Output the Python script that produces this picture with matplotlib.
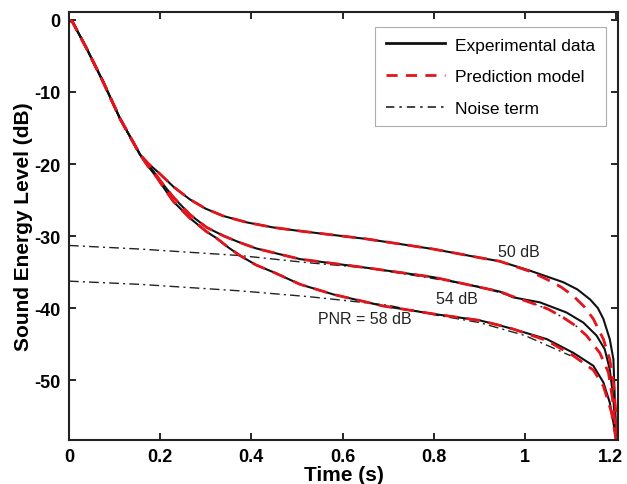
import matplotlib
matplotlib.use("Agg")
import matplotlib.pyplot as plt
from matplotlib.transforms import ScaledTranslation

plt.rcParams["font.family"] = ["Liberation Sans", "DejaVu Sans"]
plt.rcParams["axes.unicode_minus"] = False

# shared early decay (all three curves overlap here)
t_start = [0.0, 0.008, 0.039, 0.075, 0.112, 0.156]
y_start = [0.0, -0.3, -4.0, -8.6, -13.7, -18.7]

# PNR = 50 dB
t_50 = [0.175, 0.195, 0.23, 0.265, 0.30, 0.338, 0.39, 0.448, 0.507, 0.653,
        0.799, 0.901, 0.945, 1.011, 1.084, 1.115, 1.143, 1.160, 1.172,
        1.186, 1.194, 1.197, 1.201]
exp_50 = [-20.0, -21.1, -23.2, -24.9, -26.2, -27.2, -28.1, -28.8, -29.3,
          -30.4, -31.8, -33.0, -33.5, -34.8, -36.4, -37.4, -38.8, -40.0,
          -41.5, -44.3, -47.1, -52.6, -58.3]
t_50m = [0.175, 0.195, 0.23, 0.265, 0.30, 0.338, 0.39, 0.448, 0.507, 0.653,
         0.799, 0.901, 0.945, 1.011, 1.048, 1.080, 1.106, 1.130, 1.150,
         1.172, 1.186, 1.194, 1.201, 1.203]
mod_50 = [-20.0, -21.1, -23.2, -24.9, -26.2, -27.2, -28.1, -28.8, -29.3,
          -30.4, -31.8, -33.0, -33.5, -34.9, -36.0, -37.1, -38.3, -39.8,
          -41.5, -44.3, -47.1, -50.3, -55.9, -58.3]

# PNR = 54 dB
t_54 = [0.170, 0.185, 0.205, 0.229, 0.265, 0.302, 0.34, 0.375, 0.41, 0.448,
        0.507, 0.653, 0.799, 0.901, 0.945, 0.974, 1.033, 1.091, 1.128,
        1.157, 1.175, 1.186, 1.194, 1.199]
exp_54 = [-19.9, -21.0, -22.7, -24.6, -27.0, -28.8, -30.0, -30.9, -31.7,
          -32.3, -33.2, -34.4, -35.7, -37.1, -37.7, -38.5, -39.2, -40.6,
          -42.0, -43.8, -45.7, -48.5, -52.6, -57.9]
t_54m = [0.170, 0.185, 0.205, 0.229, 0.265, 0.302, 0.34, 0.375, 0.41, 0.448,
         0.507, 0.653, 0.799, 0.901, 0.945, 0.974, 1.011, 1.050, 1.084,
         1.110, 1.135, 1.164, 1.183, 1.192, 1.200]
mod_54 = [-19.9, -21.0, -22.7, -24.6, -27.0, -28.8, -30.0, -30.9, -31.7,
          -32.3, -33.2, -34.4, -35.7, -37.1, -37.7, -38.4, -39.2, -40.1,
          -41.3, -42.4, -43.8, -46.2, -48.9, -52.6, -57.5]

# PNR = 58 dB
t_58 = [0.172, 0.192, 0.210, 0.229, 0.265, 0.302, 0.324, 0.35, 0.375,
        0.41, 0.448, 0.507, 0.580, 0.689, 0.799, 0.901, 0.945, 0.974,
        1.048, 1.106, 1.150, 1.172, 1.186, 1.194, 1.200]
exp_58 = [-20.2, -21.8, -23.5, -25.2, -27.5, -29.4, -30.3, -31.6, -32.7,
          -34.0, -35.0, -36.7, -38.1, -39.7, -40.8, -41.7, -42.4, -42.9,
          -44.3, -46.2, -48.0, -50.3, -53.1, -55.9, -58.3]
t_58m = [0.172, 0.192, 0.210, 0.229, 0.265, 0.302, 0.324, 0.35, 0.375,
         0.41, 0.448, 0.507, 0.580, 0.689, 0.799, 0.901, 0.945, 0.974,
         1.048, 1.106, 1.150, 1.172, 1.190, 1.200]
mod_58 = [-20.2, -21.8, -23.5, -25.2, -27.5, -29.4, -30.3, -31.6, -32.7,
          -34.0, -35.0, -36.7, -38.1, -39.7, -40.8, -41.7, -42.4, -42.9,
          -44.5, -46.6, -48.6, -50.8, -54.5, -58.3]

# noise terms
t_noise = [0.0, 0.156, 0.375, 0.525, 0.653, 0.8, 0.9, 1.0, 1.06, 1.12]
noise_a = [-31.3, -31.8, -32.7, -33.7, -34.4, -35.9, -37.0, -38.9, -40.4, -42.8]
t_noise_b = [0.0, 0.156, 0.375, 0.525, 0.6, 0.7, 0.8, 0.9, 1.0, 1.1]
noise_b = [-36.25, -36.7, -37.6, -38.4, -38.9, -39.6, -40.9, -42.0, -43.8, -46.6]

x_ticks = [0, 0.2, 0.4, 0.6, 0.8, 1.0, 1.2]
x_labels = ["0", "0.2", "0.4", "0.6", "0.8", "1", "1.2"]
y_ticks = [0, -10, -20, -30, -40, -50]

RED = "#e3141c"

fig = plt.figure(figsize=(6.27, 4.85), dpi=100)
ax = fig.add_axes([0.110, 0.0907, 0.8756, 0.8825])

# noise terms first, underneath
ax.plot(t_noise, noise_a, color="#222222", lw=1.0, ls=(0, (7, 3, 1.5, 3)))
ax.plot(t_noise_b, noise_b, color="#222222", lw=1.0, ls=(0, (7, 3, 1.5, 3)))

for t, y in [(t_50, exp_50), (t_54, exp_54), (t_58, exp_58)]:
    ax.plot(t_start + t, y_start + y, color="#111111", lw=1.5)

for t, y in [(t_50m, mod_50), (t_54m, mod_54), (t_58m, mod_58)]:
    ax.plot(t_start + t, y_start + y, color=RED, lw=2.0, ls=(0, (5, 3)))

# legend handles
ax.plot([], [], color="#111111", lw=2.0, label="Experimental data")
ax.plot([], [], color=RED, lw=2.0, ls=(0, (4, 3)), label="Prediction model")
ax.plot([], [], color="#222222", lw=1.2, ls=(0, (5, 3, 1.5, 3)),
        label="Noise term")
handles, labels = ax.get_legend_handles_labels()
leg = ax.legend(handles[-3:], labels[-3:], loc="upper right",
                bbox_to_anchor=(0.978, 0.965), borderaxespad=0,
                fontsize=12.5, frameon=True, fancybox=False,
                handlelength=3.4, labelspacing=0.95, borderpad=0.6,
                handletextpad=0.6)
leg.get_frame().set_edgecolor("#999999")
leg.get_frame().set_linewidth(0.8)

ax.text(0.987, -32.1, "50 dB", fontsize=11.5, ha="center", va="center",
        color="#222222")
ax.text(0.851, -38.6, "54 dB", fontsize=11.5, ha="center", va="center",
        color="#222222")
ax.text(0.649, -41.5, "PNR = 58 dB", fontsize=11.5, ha="center",
        va="center", color="#222222")

ax.set_xlim(0, 1.204)
ax.set_ylim(-58.3, 1.1)
ax.set_xticks(x_ticks)
ax.set_xticklabels(x_labels)
ax.set_yticks(y_ticks)
ax.tick_params(direction="in", top=True, right=True, length=5, width=1.2,
               labelsize=13, pad=6)
for lab in ax.get_xticklabels() + ax.get_yticklabels():
    lab.set_fontweight("bold")
# last x label sits a little left so it stays inside the figure
last = ax.get_xticklabels()[-1]
last.set_transform(last.get_transform()
                   + ScaledTranslation(-6 / 100, 0, fig.dpi_scale_trans))
for s in ax.spines.values():
    s.set_linewidth(1.5)
    s.set_color("#222222")

ax.set_xlabel("Time (s)", fontsize=15, fontweight="bold", labelpad=0)
ax.set_ylabel("Sound Energy Level (dB)", fontsize=15, fontweight="bold",
              labelpad=1)

fig.savefig("out.png", dpi=100)
